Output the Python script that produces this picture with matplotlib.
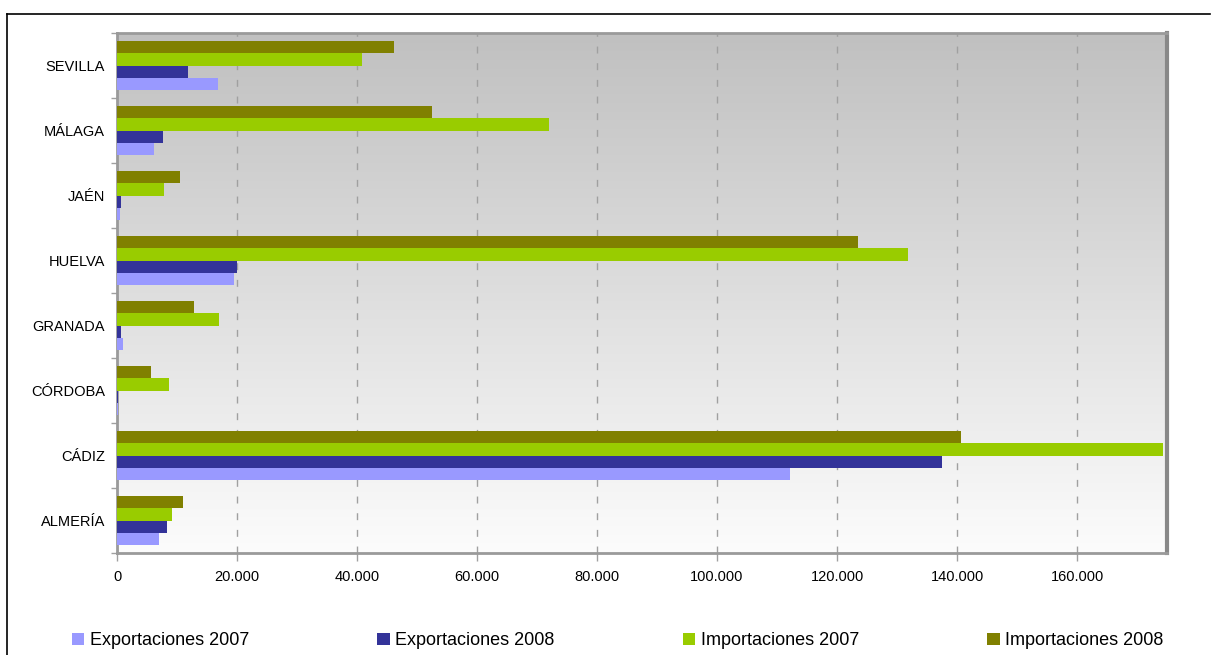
import numpy as np
import matplotlib
matplotlib.use("Agg")
import matplotlib.pyplot as plt
from matplotlib.lines import Line2D
from matplotlib.ticker import FixedLocator, FuncFormatter

plt.rcParams['font.family'] = ['Liberation Sans', 'DejaVu Sans']

categories = ["ALMERÍA", "CÁDIZ", "CÓRDOBA", "GRANADA", "HUELVA", "JAÉN", "MÁLAGA", "SEVILLA"]
series_names = ["Exportaciones 2007", "Exportaciones 2008", "Importaciones 2007", "Importaciones 2008"]
exp_2007 = [7000, 112200, 100, 1000, 19500, 500, 6200, 16800]
exp_2008 = [8300, 137500, 100, 700, 20000, 700, 7700, 11800]
imp_2007 = [9200, 174300, 8700, 17000, 131800, 7800, 72000, 40800]
imp_2008 = [11000, 140700, 5700, 12800, 123500, 10500, 52500, 46200]
x_ticks = [0, 20000, 40000, 60000, 80000, 100000, 120000, 140000, 160000]

colors = ["#9999ff", "#333399", "#99cc00", "#808000"]
series = [exp_2007, exp_2008, imp_2007, imp_2008]

fig = plt.figure(figsize=(12.11, 6.55), dpi=100)
ax = fig.add_axes([117/1211, 1-553/655, (1167-117)/1211, (553-33)/655])

# gradient background
grad = np.linspace(0, 1, 256).reshape(-1, 1)
top = np.array([192, 192, 192]) / 255
bot = np.array([252, 252, 252]) / 255
img = top[None, None, :] * (1 - grad[:, :, None]) + bot[None, None, :] * grad[:, :, None]
ax.imshow(img, aspect='auto', extent=[0, 175000, -0.5, len(categories) - 0.5],
          origin='upper', zorder=0)

y = np.arange(len(categories))
h = 0.185
offsets = [-1.5 * h, -0.5 * h, 0.5 * h, 1.5 * h]
for vals, c, off, name in zip(series, colors, offsets, series_names):
    ax.barh(y + off, vals, height=h, color=c, label=name, zorder=3)

ax.set_xlim(0, 175000)
ax.set_ylim(-0.5, len(categories) - 0.5)
ax.set_xticks(x_ticks)
ax.xaxis.set_major_formatter(FuncFormatter(lambda v, p: f"{int(v):,}".replace(",", ".")))
ax.set_yticks(y)
ax.set_yticklabels(categories)
ax.yaxis.set_minor_locator(FixedLocator(np.arange(-0.5, len(categories), 1.0)))
ax.tick_params(axis='y', which='major', length=0, pad=8.5, labelsize=10.5)
ax.tick_params(axis='y', which='minor', length=4, color='#a0a0a0', width=1)
ax.tick_params(axis='x', which='major', length=6, color='#a0a0a0', width=1, pad=6, labelsize=10.5)

ax.grid(axis='x', color='#a0a0a0', linestyle=(0, (5, 7)), linewidth=1, zorder=1)
ax.set_axisbelow(True)

for side in ['top', 'bottom', 'left']:
    ax.spines[side].set_color('#9a9a9a')
    ax.spines[side].set_linewidth(2)
ax.spines['right'].set_color('#888888')
ax.spines['right'].set_linewidth(3)

leg = fig.legend(loc='lower center', bbox_to_anchor=(0.51, -0.016), ncol=4, frameon=False,
                 fontsize=13, handlelength=0.7, handleheight=0.7, handletextpad=0.3,
                 columnspacing=7.1)

# outer frame lines
fig.add_artist(Line2D([7/1211, 1210/1211], [1-14/655, 1-14/655], color='black', linewidth=1.2,
                      transform=fig.transFigure))
fig.add_artist(Line2D([7/1211, 7/1211], [1-14/655, 0], color='black', linewidth=1.2,
                      transform=fig.transFigure))

fig.savefig("out.png", dpi=100)
